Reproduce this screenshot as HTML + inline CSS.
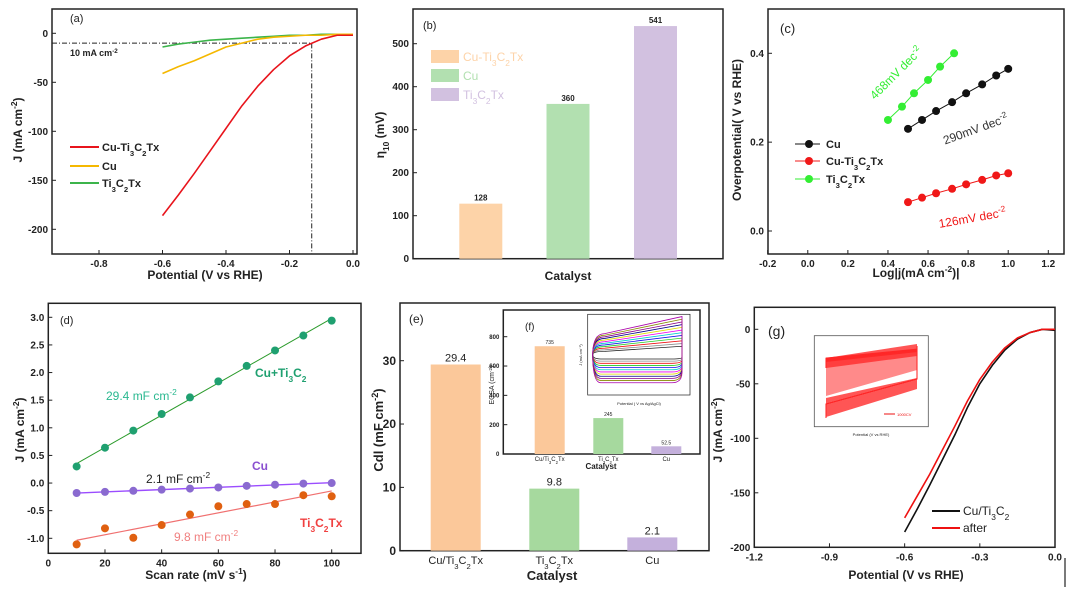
<!DOCTYPE html>
<html><head><meta charset="utf-8"><style>
html,body{margin:0;padding:0;background:#fff}
svg{display:block;font-family:"Liberation Sans",Arial,sans-serif}
</style></head><body>
<svg id="fig" width="1080" height="597" viewBox="0 0 1080 597" xmlns="http://www.w3.org/2000/svg"></svg>
<script>
// ---- data ----
const aX = [-0.6,-0.55,-0.5,-0.45,-0.4,-0.35,-0.3,-0.25,-0.2,-0.15,-0.1,-0.05,0];
const aRed = [-186,-165,-143,-120,-97,-74,-54,-37,-23,-13,-6,-2,-2];
const aCu = [-41,-34,-28,-21,-14,-10,-6,-4,-3,-2,-2,-1,-1];
const aTi = [-14,-11,-9,-7,-6,-5,-4,-3,-2,-2,-1,-1,-1];
const bCats = ["Cu-Ti3C2Tx","Cu","Ti3C2Tx"];
const bVals = [128,360,541];
const cCuX = [0.5,0.57,0.64,0.72,0.79,0.87,0.94,1.0];
const cCuY = [0.23,0.25,0.27,0.29,0.31,0.33,0.35,0.365];
const cRedY = [0.065,0.075,0.085,0.095,0.105,0.115,0.125,0.13];
const cTiX = [0.4,0.47,0.53,0.6,0.66,0.73];
const cTiY = [0.25,0.28,0.31,0.34,0.37,0.40];
const dX = [10,20,30,40,50,60,70,80,90,100];
const dCuTi = [0.3,0.64,0.95,1.25,1.55,1.84,2.12,2.4,2.67,2.94];
const dCu = [-0.18,-0.16,-0.14,-0.12,-0.1,-0.08,-0.05,-0.03,-0.01,0.0];
const dTi = [-1.11,-0.82,-0.99,-0.76,-0.57,-0.42,-0.38,-0.38,-0.22,-0.24];
const eVals = [29.4,9.8,2.1];
const fVals = [735,245,52.5];
const gX = [-0.6,-0.55,-0.5,-0.45,-0.4,-0.35,-0.3,-0.25,-0.2,-0.15,-0.1,-0.05,0];
const gBlack = [-186,-165,-143,-120,-97,-72,-50,-33,-19,-9,-3,0,-1];
const gAfter = [-173,-153,-133,-111,-89,-66,-46,-30,-17,-8,-3,0,0];
const cvAmps = [0.3,0.45,0.6,0.75,0.9,1.05,1.2,1.35,1.5,1.65,1.8,1.95];
const gLoops = [0.55,0.6,0.65,0.7,0.75,0.8,0.85,0.9,0.95,1.0];

const NS="http://www.w3.org/2000/svg", svg=document.getElementById('fig');
function mk(tag,attrs,parent){const e=document.createElementNS(NS,tag);for(const k in attrs)e.setAttribute(k,attrs[k]);(parent||svg).appendChild(e);return e;}
function lin(v0,p0,v1,p1){return v=>p0+(v-v0)*(p1-p0)/(v1-v0);}
function sub(s){return s.replace(/(Ti|C)(\d)/g,'$1<tspan baseline-shift="sub" font-size="70%">$2</tspan>');}
function T(x,y,html,o){o=o||{};const t=mk('text',{x:x,y:y,'font-size':o.fs||10,'font-weight':o.fw||'bold',fill:o.fill||'#222','text-anchor':o.anchor||'middle'});if(o.rot)t.setAttribute('transform','rotate('+o.rot+' '+x+' '+y+')');t.innerHTML=html;return t;}
function frame(b,fs,sx,sy,xt,yt,xfmt,yfmt){
  const r=mk('rect',{x:b.l,y:b.t,width:b.r-b.l,height:b.b-b.t,fill:'none',stroke:'#222','stroke-width':1.5});
  
  
  if(xt)xt.forEach(v=>{const p=sx(v);mk('line',{x1:p,x2:p,y1:b.b,y2:b.b-4,stroke:'#222'});
    const t=T(p,b.b+fs+3,xfmt(v),{fs:fs});
    
    });
  if(yt)yt.forEach(v=>{const p=sy(v);mk('line',{x1:b.l,x2:b.l+4,y1:p,y2:p,stroke:'#222'});
    const t=T(b.l-4,p+fs*0.35,yfmt(v),{fs:fs,anchor:'end'});
    
    });
}
function line(xs,ys,sx,sy,color,w,name,parent){
  const p=mk('polyline',{points:xs.map((x,i)=>sx(x)+','+sy(ys[i])).join(' '),fill:'none',stroke:color,'stroke-width':w||1.6,'stroke-linejoin':'round'},parent);
  
  return p;}
function dots(xs,ys,sx,sy,color,r,name){xs.forEach((x,i)=>{const c=mk('circle',{cx:sx(x),cy:sy(ys[i]),r:r,fill:color});
  
  });}
function fit(xs,ys){const n=xs.length,mx=xs.reduce((a,b)=>a+b)/n,my=ys.reduce((a,b)=>a+b)/n;let sxy=0,sxx=0;xs.forEach((x,i)=>{sxy+=(x-mx)*(ys[i]-my);sxx+=(x-mx)*(x-mx);});const k=sxy/sxx;return x=>my+k*(x-mx);}
const f1=v=>v.toFixed(1), f0=v=>String(v);

// ---- (a) ----
{const b={l:52,r:357,t:9,b:254},sx=lin(-0.8,99,0,353),sy=lin(0,33.3,-200,229.3);
frame(b,10,sx,sy,[-0.8,-0.6,-0.4,-0.2,0],[0,-50,-100,-150,-200],f1,f0);
const h=mk('polyline',{points:b.l+','+sy(-10)+' '+sx(-0.13)+','+sy(-10)+' '+sx(-0.13)+','+b.b,fill:'none',stroke:'#222','stroke-dasharray':'5,2,1,2'});


line(aX,aTi,sx,sy,'#3cb44b',1.6,'ti3c2tx-curve');line(aX,aCu,sx,sy,'#f5b800',1.6,'cu-curve');line(aX,aRed,sx,sy,'#e8141c',1.6,'cu-ti3c2tx-curve');
T(70,22,'(a)',{fw:'normal',fs:11,anchor:'start'});T(70,56,'10 mA cm<tspan baseline-shift="super" font-size="70%">-2</tspan>',{fs:9,anchor:'start'});
[['Cu-Ti3C2Tx','#e8141c',147],['Cu','#f5b800',166],['Ti3C2Tx','#3cb44b',183]].forEach(l=>{mk('line',{x1:70,x2:99,y1:l[2],y2:l[2],stroke:l[1],'stroke-width':2});const t=T(102,l[2]+4,sub(l[0]),{fs:11,anchor:'start'});});
T(205,279,'Potential (V vs RHE)',{fs:12});T(22,130,'J (mA cm<tspan baseline-shift="super" font-size="70%">-2</tspan>)',{fs:12,rot:-90});}

// ---- (b) ----
{const b={l:413,r:723,t:9,b:258.7},sy=lin(0,258.7,500,43.7),cx=[480.8,568,655.5],cols=['#fdd3a8','#b2e0b0','#d2c1e0'];
frame(b,10,null,sy,null,[0,100,200,300,400,500],null,f0);
bVals.forEach((v,i)=>{const r=mk('rect',{x:cx[i]-21.5,y:sy(v),width:43,height:sy(0)-sy(v),fill:cols[i]});T(cx[i],sy(v)-3,v,{fs:8});});
T(423,29,'(b)',{fw:'normal',fs:11,anchor:'start'});
bCats.forEach((c,i)=>{mk('rect',{x:431,y:50+i*19,width:28,height:13,fill:cols[i]});const t=T(463,61+i*19,sub(c),{fw:'normal',fs:12,fill:cols[i],anchor:'start'});});
T(568,280,'Catalyst',{fs:12});T(384,135,'η<tspan baseline-shift="sub" font-size="70%">10</tspan> (mV)',{fs:12,rot:-90});}

// ---- (c) ----
{const b={l:768,r:1064,t:9,b:254},sx=lin(-0.2,767.7,1.2,1048.3),sy=lin(0,231,0.4,53.3);
frame(b,10,sx,sy,[-0.2,0,0.2,0.4,0.6,0.8,1.0,1.2],[0,0.2,0.4],f1,f1);
line(cTiX,cTiY,sx,sy,'#33ee33',1,'ti3c2tx-tafel');dots(cTiX,cTiY,sx,sy,'#33ee33',4,'ti3c2tx-point');
line(cCuX,cCuY,sx,sy,'#111',1,'cu-tafel');dots(cCuX,cCuY,sx,sy,'#111',4,'cu-point');
line(cCuX,cRedY,sx,sy,'#f01818',1,'cu-ti3c2tx-tafel');dots(cCuX,cRedY,sx,sy,'#f01818',4,'cu-ti3c2tx-point');
T(780,33,'(c)',{fw:'normal',fs:13,anchor:'start'});
T(899,76,'468mV dec<tspan baseline-shift="super" font-size="70%">-2</tspan>',{fw:'normal',fs:12,fill:'#33ee33',rot:-45});
T(977,133,'290mV dec<tspan baseline-shift="super" font-size="70%">-2</tspan>',{fw:'normal',fs:12,fill:'#333',rot:-20});
T(973,222,'126mV dec<tspan baseline-shift="super" font-size="70%">-2</tspan>',{fw:'normal',fs:12,fill:'#f01818',rot:-10});
[['Cu','#111',144],['Cu-Ti3C2Tx','#f01818',161],['Ti3C2Tx','#33ee33',179]].forEach(l=>{mk('line',{x1:795,x2:820,y1:l[2],y2:l[2],stroke:l[1]});mk('circle',{cx:809,cy:l[2],r:4,fill:l[1]});const t=T(826,l[2]+4,sub(l[0]),{fs:11,anchor:'start'});});
T(916,277,'Log|j(mA cm<tspan baseline-shift="super" font-size="70%">-2</tspan>)|',{fs:12});T(741,130,'Overpotential( V vs RHE)',{fs:12,rot:-90});}

// ---- (d) ----
{const b={l:48.3,r:361,t:303.3,b:553.3},sx=lin(0,48.3,100,331.7),sy=lin(-1,538.3,3,317.3);
frame(b,10,sx,sy,[0,20,40,60,80,100],[-1,-0.5,0,0.5,1,1.5,2,2.5,3],f0,f1);
const fa=fit(dX,dCuTi),fb=fit(dX,dCu),fc=fit(dX,dTi);
line([10,100],[fa(10),fa(100)],sx,sy,'#2a9a2a',1,'cuti-fit');line([10,100],[fb(10),fb(100)],sx,sy,'#9b4dff',1.4,'cu-fit');line([10,100],[fc(10),fc(100)],sx,sy,'#f07070',1.2,'ti-fit');
dots(dX,dCuTi,sx,sy,'#1fa070',4,'cuti-point');dots(dX,dCu,sx,sy,'#8a6ad0',4,'cu-point');dots(dX,dTi,sx,sy,'#e06010',4,'ti-point');
T(60,324,'(d)',{fw:'normal',fs:11,anchor:'start'});
T(106,400,'29.4 mF cm<tspan baseline-shift="super" font-size="70%">-2</tspan>',{fw:'normal',fs:12,fill:'#2ab890',anchor:'start'});
T(255,377,'Cu+Ti<tspan baseline-shift="sub" font-size="70%">3</tspan>C<tspan baseline-shift="sub" font-size="70%">2</tspan>',{fs:12,fill:'#1fa070',anchor:'start'});
T(146,483,'2.1 mF cm<tspan baseline-shift="super" font-size="70%">-2</tspan>',{fw:'normal',fs:12,fill:'#222',anchor:'start'});
T(252,470,'Cu',{fs:12,fill:'#8a50d0',anchor:'start'});
T(174,541,'9.8 mF cm<tspan baseline-shift="super" font-size="70%">-2</tspan>',{fw:'normal',fs:12,fill:'#f08080',anchor:'start'});
T(300,527,sub('Ti3C2Tx'),{fs:12,fill:'#f04040',anchor:'start'});
T(196,579,'Scan rate (mV s<tspan baseline-shift="super" font-size="70%">-1</tspan>)',{fs:12});T(24,430,'J (mA cm<tspan baseline-shift="super" font-size="70%">-2</tspan>)',{fs:12,rot:-90});}

// ---- (e) + (f) ----
{const b={l:400,r:709,t:303,b:550.7},sy=lin(0,550.7,30,360.7),cx=[455.7,554.3,652.3],cols=['#fbc89a','#a6d99e','#c4b0dc'],labs=['Cu/Ti3C2Tx','Ti3C2Tx','Cu'];
frame(b,12,null,sy,null,[0,10,20,30],null,f0);
eVals.forEach((v,i)=>{const r=mk('rect',{x:cx[i]-25,y:sy(v),width:50,height:sy(0)-sy(v),fill:cols[i]});T(cx[i],sy(v)-3,v,{fw:'normal',fs:11});T(cx[i],564,sub(labs[i]),{fw:'normal',fs:11});});
T(409,323,'(e)',{fw:'normal',fs:12,anchor:'start'});
T(552,580,'Catalyst',{fs:13});T(383,430,'Cdl (mF cm<tspan baseline-shift="super" font-size="70%">-2</tspan>)',{fs:13,rot:-90});
// inset f
const fb={l:503.3,r:700,t:310,b:454},fy=lin(0,454,800,336.7),fx=[549.7,608.3,666.3],fl=['Cu/Ti3C2Tx','Ti3C2Tx','Cu'],fc=['#fbc89a','#a6d99e','#c4b0dc'];
mk('rect',{x:fb.l,y:fb.t,width:fb.r-fb.l,height:fb.b-fb.t,fill:'#fff'});
frame(fb,6,null,fy,null,[0,200,400,600,800],null,f0);
fVals.forEach((v,i)=>{const r=mk('rect',{x:fx[i]-15,y:fy(v),width:30,height:fy(0)-fy(v),fill:fc[i]});T(fx[i],fy(v)-2,v,{fw:'normal',fs:5});T(fx[i],461,sub(fl[i]),{fw:'normal',fs:6});});
T(525,330,'(f)',{fw:'normal',fs:10,anchor:'start'});T(601,469,'Catalyst',{fs:8});T(494,385,'ECSA (cm<tspan baseline-shift="super" font-size="70%">-2</tspan>)',{fw:'normal',fs:7,rot:-90});
// CV inset
const cv={l:587.7,r:690,t:314.3,b:395},cy=(cv.t+cv.b)/2;
mk('rect',{x:cv.l,y:cv.t,width:cv.r-cv.l,height:cv.b-cv.t,fill:'#fff',stroke:'#222','stroke-width':0.7});
const cvCols=['#222','#888','#ee1111','#22cc22','#1111ee','#00cccc','#ee00ee','#dddd00','#000088','#880088','#888800','#aa00aa'];
const g=mk('g',{});
cvAmps.forEach((a,i)=>{const x0=cv.l+5,x1=cv.r-8,s=18;const top=cy-a*s*0.6,topR=cy-a*s-3,bot=cy+a*s*0.8,botR=cy+a*s*0.5;
 const p=mk('path',{d:`M${x0},${cy} Q${x0},${top} ${x0+12},${top} L${x1},${topR} L${x1},${botR} Q${x1},${bot} ${x1-10},${bot} L${x0+8},${bot} Q${x0},${bot} ${x0},${cy}Z`,fill:'none',stroke:cvCols[i],'stroke-width':0.8},g);
 });
T(639,405,'Potential ( V vs Ag/AgCl)',{fw:'normal',fs:4});T(582,355,'J (mA cm⁻²)',{fw:'normal',fs:4,rot:-90});}

// ---- (g) ----
{const b={l:754.3,r:1055,t:307.3,b:547.3},sx=lin(-1.2,754.3,0,1055),sy=lin(-200,547.3,0,329.3);
frame(b,10,sx,sy,[-1.2,-0.9,-0.6,-0.3,0],[0,-50,-100,-150,-200],f1,f0);
line(gX,gBlack,sx,sy,'#111',1.6,'cu-ti3c2-curve');line(gX,gAfter,sx,sy,'#ee1111',1.6,'after-curve');
T(768,336,'(g)',{fw:'normal',fs:14,anchor:'start'});
[['Cu/Ti3C2','#111',511],['after','#ee1111',528]].forEach(l=>{mk('line',{x1:932,x2:960,y1:l[2],y2:l[2],stroke:l[1],'stroke-width':2});const t=T(963,l[2]+4,sub(l[0]),{fw:'normal',fs:12,anchor:'start'});});
T(906,579,'Potential (V vs RHE)',{fs:12});T(722,430,'J (mA cm<tspan baseline-shift="super" font-size="70%">-2</tspan>)',{fs:12,rot:-90});
mk('line',{x1:1065,x2:1065,y1:558,y2:587,stroke:'#222','stroke-width':1.2});
const ib={l:814.3,r:928.3,t:335.7,b:426.7};
mk('rect',{x:ib.l,y:ib.t,width:ib.r-ib.l,height:ib.b-ib.t,fill:'#fff',stroke:'#555','stroke-width':0.8});
const gg=mk('g',{});
gLoops.forEach(a=>{const x0=826,x1=917;const p=mk('path',{d:`M${x0},${368} L${x0},${366-8*a} L${x1},${355-6*a} L${x1},${346} L${x1},${379} L${x0},${404} L${x0},${418}`,fill:'none',stroke:'#ff1a1a','stroke-width':0.8},gg);
 });
mk('polygon',{points:'826,362 917,350 917,370 826,396',fill:'#ff2a2a',opacity:0.55});
mk('polygon',{points:'826,398 917,378 917,389 826,417',fill:'#ff2a2a',opacity:0.8});
mk('polygon',{points:'826,358 917,344 917,356 826,368',fill:'#ff2a2a',opacity:0.8});
mk('line',{x1:884,x2:895,y1:414,y2:414,stroke:'#ee1111'});T(897,416,'1000CV',{fw:'normal',fs:4,fill:'#ee1111',anchor:'start'});
T(871,436,'Potential (V vs RHE)',{fw:'normal',fs:4});}
</script>
</body></html>
